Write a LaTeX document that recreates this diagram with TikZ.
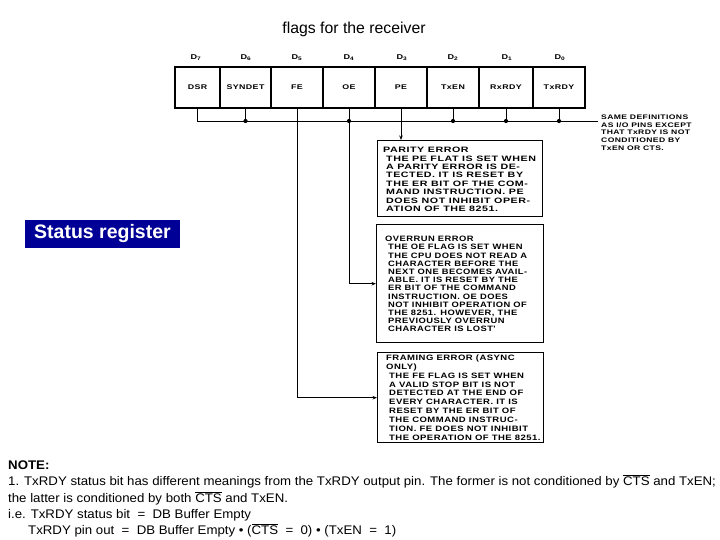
\documentclass[tikz,border=0pt]{standalone}
\usepackage{fontspec}
\setmainfont{Liberation Sans}
\newfontfamily\scanfont[FakeStretch=1.3,LetterSpace=6]{Liberation Sans}
\newfontfamily\pefont[FakeStretch=1.37,LetterSpace=7]{Liberation Sans}
\newfontfamily\oefont[FakeStretch=1.2,LetterSpace=6]{Liberation Sans}
\newfontfamily\fefont[FakeStretch=1.22,LetterSpace=6]{Liberation Sans}
\newfontfamily\notefont[FakeStretch=1.06]{Liberation Sans}
\usetikzlibrary{arrows.meta}
\definecolor{navy}{RGB}{0,0,150}
\newcommand{\ctsbar}{\ensuremath{\overline{\hbox{CTS}}}}
\begin{document}
\begin{tikzpicture}[x=1pt,y=-1pt,
  cell/.style={draw, line width=1.3pt, minimum height=41pt, inner sep=0pt, font=\scanfont\bfseries\fontsize{6.8}{7}\selectfont},
  dlabel/.style={inner sep=0pt, font=\scanfont\bfseries\fontsize{7}{7}\selectfont},
  errbox/.style={draw, line width=1.4pt, anchor=north west, inner sep=0pt},
  boxtext/.style={anchor=north west, inner sep=0pt, align=left},
  wire/.style={line width=0.9pt},
  arr/.style={wire, -{Stealth[length=4.5pt,width=3.5pt]}},
  dot/.style={circle, fill, inner sep=0pt, minimum size=4.2pt}
]
\useasboundingbox (0,0) rectangle (720,540);
\fill[white] (0,0) rectangle (720,540);

% title
\node[font=\fontsize{15.8}{18}\selectfont, inner sep=0pt] (title) at (354,29) {flags for the receiver};

% status register label
\node[fill=navy, text=white, font=\bfseries\fontsize{19.5}{22}\selectfont, minimum width=155pt, minimum height=28pt, inner sep=0pt] (sr) at (102.5,234) {Status register};

% register cells
\node[cell, minimum width=45pt] (c7) at (197.5,87.5) {DSR};
\node[cell, minimum width=51pt] (c6) at (245.5,87.5) {SYNDET};
\node[cell, minimum width=52pt] (c5) at (297,87.5) {FE};
\node[cell, minimum width=52pt] (c4) at (349,87.5) {OE};
\node[cell, minimum width=52pt] (c3) at (401,87.5) {PE};
\node[cell, minimum width=52pt] (c2) at (453,87.5) {TxEN};
\node[cell, minimum width=54pt] (c1) at (506,87.5) {RxRDY};
\node[cell, minimum width=52pt] (c0) at (559,87.5) {TxRDY};
\draw[line width=1.8pt] (175,67) rectangle (585,108);

% bit labels
\node[dlabel] (d7) at (196,58) {D\textsubscript{7}};
\node[dlabel] (d6) at (246,58) {D\textsubscript{6}};
\node[dlabel] (d5) at (297,58) {D\textsubscript{5}};
\node[dlabel] (d4) at (349,58) {D\textsubscript{4}};
\node[dlabel] (d3) at (402,58) {D\textsubscript{3}};
\node[dlabel] (d2) at (453,58) {D\textsubscript{2}};
\node[dlabel] (d1) at (507,58) {D\textsubscript{1}};
\node[dlabel] (d0) at (560,58) {D\textsubscript{0}};

% same definitions note
\node[anchor=north west, inner sep=0pt, align=left, font=\scanfont\bfseries\fontsize{6.6}{7.7}\selectfont] (sd) at (601,114.5)
{SAME DEFINITIONS\\AS I/O PINS EXCEPT\\THAT TxRDY IS NOT\\CONDITIONED BY\\TxEN OR CTS.};
\coordinate (busend) at (598,121);

% bus
\draw[wire] (c7.south) |- (busend);
\node[dot] (j6) at (c6.south |- busend) {};
\node[dot] (j4) at (c4.south |- busend) {};
\node[dot] (j2) at (c2.south |- busend) {};
\node[dot] (j1) at (c1.south |- busend) {};
\node[dot] (j0) at (c0.south |- busend) {};
\draw[wire] (c6.south) -- (j6);
\draw[wire] (c2.south) -- (j2);
\draw[wire] (c1.south) -- (j1);
\draw[wire] (c0.south) -- (j0);

% error boxes
\node[errbox, minimum width=165pt, minimum height=76pt] (pe) at (377,140) {};
\node[errbox, minimum width=167pt, minimum height=118pt] (oe) at (376,224) {};
\node[errbox, minimum width=166pt, minimum height=90pt] (fe) at (377,352) {};

\node[boxtext, font=\pefont\bfseries\fontsize{7.8}{8.43}\selectfont] (pet) at (383,147) {PARITY ERROR\\
\hspace*{3pt}THE PE FLAT IS SET WHEN\\
\hspace*{3pt}A PARITY ERROR IS DE-\\
\hspace*{3pt}TECTED. IT IS RESET BY\\
\hspace*{3pt}THE ER BIT OF THE COM-\\
\hspace*{3pt}MAND INSTRUCTION. PE\\
\hspace*{3pt}DOES NOT INHIBIT OPER-\\
\hspace*{3pt}ATION OF THE 8251.};

\node[boxtext, font=\oefont\bfseries\fontsize{7.8}{8.2}\selectfont] (oet) at (385,236) {OVERRUN ERROR\\
\hspace*{3pt}THE OE FLAG IS SET WHEN\\
\hspace*{3pt}THE CPU DOES NOT READ A\\
\hspace*{3pt}CHARACTER BEFORE THE\\
\hspace*{3pt}NEXT ONE BECOMES AVAIL-\\
\hspace*{3pt}ABLE. IT IS RESET BY THE\\
\hspace*{3pt}ER BIT OF THE COMMAND\\
\hspace*{3pt}INSTRUCTION. OE DOES\\
\hspace*{3pt}NOT INHIBIT OPERATION OF\\
\hspace*{3pt}THE 8251. HOWEVER, THE\\
\hspace*{3pt}PREVIOUSLY OVERRUN\\
\hspace*{3pt}CHARACTER IS LOST'};

\node[boxtext, font=\fefont\bfseries\fontsize{7.8}{8.9}\selectfont] (fet) at (386,354.5) {FRAMING ERROR (ASYNC\\
ONLY)\\
\hspace*{3pt}THE FE FLAG IS SET WHEN\\
\hspace*{3pt}A VALID STOP BIT IS NOT\\
\hspace*{3pt}DETECTED AT THE END OF\\
\hspace*{3pt}EVERY CHARACTER. IT IS\\
\hspace*{3pt}RESET BY THE ER BIT OF\\
\hspace*{3pt}THE COMMAND INSTRUC-\\
\hspace*{3pt}TION. FE DOES NOT INHIBIT\\
\hspace*{3pt}THE OPERATION OF THE 8251.};

% flag connectors
\draw[arr] (c3.south) -- (c3.south |- pe.north);
\draw[arr] (c4.south) |- (oe.west);
\draw[arr] (c5.south) |- (fe.west);

% note
\node[anchor=north west, inner sep=0pt, align=left, font=\notefont\fontsize{12.5}{16.3}\selectfont] (note) at (8,460.5)
{\textbf{NOTE:}\\
1. TxRDY status bit has different meanings from the TxRDY output pin. The former is not conditioned by \ctsbar{} and TxEN;\\
the latter is conditioned by both \ctsbar{} and TxEN.\\
i.e. TxRDY status bit\ \ =\ \ DB Buffer Empty\\
\hspace*{20pt}TxRDY pin out\ \ =\ \ DB Buffer Empty • (\ctsbar\ \ =\ \ 0) • (TxEN\ \ =\ \ 1)};
\end{tikzpicture}
\end{document}
